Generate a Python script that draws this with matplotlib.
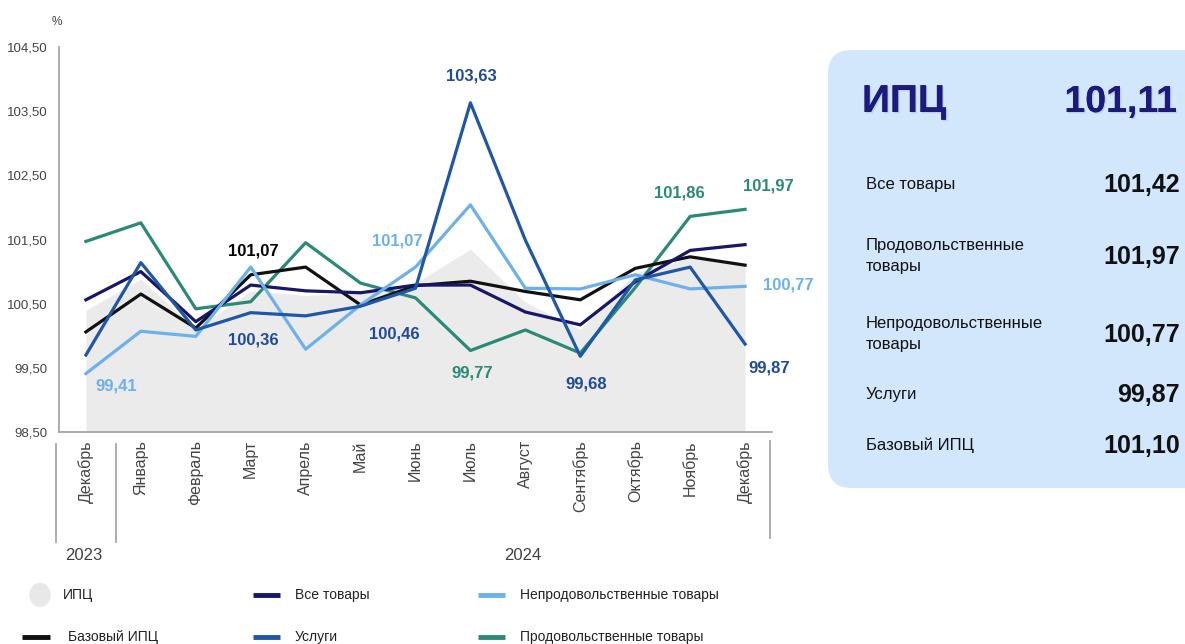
import matplotlib
matplotlib.use('Agg')
import matplotlib.pyplot as plt
from matplotlib.patches import FancyBboxPatch, Ellipse
from matplotlib.lines import Line2D
import matplotlib.patheffects as pe

plt.rcParams['font.family'] = ['Liberation Sans', 'DejaVu Sans']

months = ['Декабрь', 'Январь', 'Февраль', 'Март', 'Апрель', 'Май', 'Июнь',
          'Июль', 'Август', 'Сентябрь', 'Октябрь', 'Ноябрь', 'Декабрь']
cpi = [100.40, 100.88, 100.10, 100.70, 100.63, 100.67, 100.82, 101.35,
       100.52, 100.10, 100.98, 101.21, 101.11]
base_cpi = [100.06, 100.65, 100.12, 100.95, 101.07, 100.48, 100.78, 100.85,
            100.69, 100.56, 101.05, 101.23, 101.10]
all_goods = [100.56, 101.00, 100.22, 100.79, 100.70, 100.67, 100.79, 100.79,
             100.37, 100.17, 100.84, 101.33, 101.42]
services = [99.70, 101.14, 100.09, 100.36, 100.31, 100.46, 100.74, 103.63,
            101.49, 99.68, 100.87, 101.07, 99.87]
nonfood = [99.41, 100.07, 99.99, 101.07, 99.79, 100.48, 101.07, 102.04,
           100.74, 100.73, 100.95, 100.73, 100.77]
food = [101.47, 101.76, 100.42, 100.53, 101.45, 100.82, 100.59, 99.77,
        100.09, 99.73, 100.75, 101.86, 101.97]

panel_labels = ['Все товары', 'Продовольственные\nтовары',
                'Непродовольственные\nтовары', 'Услуги', 'Базовый ИПЦ']
panel_values = ['101,42', '101,97', '100,77', '99,87', '101,10']

c_cpi = '#ebebeb'
c_base = '#111111'
c_goods = '#17166b'
c_serv = '#1f57a8'
c_nonfood = '#6cb0ec'
c_food = '#2a8a76'
c_serv_lbl = '#1f4b98'

W, H = 1185, 644
fig = plt.figure(figsize=(W / 100, H / 100), dpi=100)
ax = fig.add_axes([59 / W, 1 - 432 / H, (772 - 59) / W, (432 - 47) / H])

x = list(range(len(months)))
ax.fill_between(x, 98.5, cpi, color=c_cpi, lw=0, zorder=1)
ax.plot(x, food, color=c_food, lw=2.3, zorder=2)
ax.plot(x, base_cpi, color=c_base, lw=2.3, zorder=3)
ax.plot(x, all_goods, color=c_goods, lw=2.3, zorder=4)
ax.plot(x, nonfood, color=c_nonfood, lw=2.3, zorder=5)
ax.plot(x, services, color=c_serv, lw=2.3, zorder=6)

ax.set_xlim(-0.49, 12.49)
ax.set_ylim(98.5, 104.5)
ax.set_yticks([98.5, 99.5, 100.5, 101.5, 102.5, 103.5, 104.5])
ax.set_yticklabels(['98,50', '99,50', '100,50', '101,50', '102,50', '103,50', '104,50'])
ax.set_xticks(x)
ax.set_xticklabels(months, rotation=90, va='top', ha='center')
ax.tick_params(axis='y', length=0, pad=8, labelsize=9.5, labelcolor='#444444')
ax.tick_params(axis='x', length=0, pad=6, labelsize=11.5, labelcolor='#444444')
for s in ['top', 'right']:
    ax.spines[s].set_visible(False)
ax.spines['left'].set_color('#a6a6a6')
ax.spines['bottom'].set_color('#a6a6a6')
ax.spines['left'].set_linewidth(1.3)
ax.spines['bottom'].set_linewidth(1.3)

# data labels
def lbl(i, v, txt, color, dx=0, dy=0):
    ax.annotate(txt, (i, v), xytext=(dx, dy), textcoords='offset points',
                ha='center', va='center', fontsize=12, fontweight='bold', color=color)

lbl(7, services[7], '103,63', c_serv_lbl, 1, 19)
lbl(3, base_cpi[3], '101,07', 'black', 2, 17)
lbl(6, nonfood[6], '101,07', c_nonfood, -13, 19)
lbl(3, services[3], '100,36', c_serv_lbl, 2, -20)
lbl(5, services[5], '100,46', c_serv_lbl, 24, -20)
lbl(0, nonfood[0], '99,41', c_nonfood, 22, -9)
lbl(7, food[7], '99,77', c_food, 1, -16)
lbl(9, services[9], '99,68', c_serv_lbl, 4, -20)
lbl(11, food[11], '101,86', c_food, -8, 17)
lbl(12, food[12], '101,97', c_food, 17, 17)
lbl(12, nonfood[12], '100,77', c_nonfood, 31, 1)
lbl(12, services[12], '99,87', c_serv_lbl, 17, -17)

# "%" unit
fig.text(57 / W, 1 - 22 / H, '%', fontsize=8.5, color='#444444', ha='center', va='center')

# year separators
for px, y0, y1 in [(56, 444, 542), (116, 444, 542), (770, 441, 538)]:
    fig.add_artist(Line2D([px / W, px / W], [1 - y0 / H, 1 - y1 / H],
                          color='#a6a6a6', lw=1.3))
fig.text(84 / W, 1 - 555 / H, '2023', fontsize=12, color='#404040',
         ha='center', va='center')
fig.text(523 / W, 1 - 555 / H, '2024', fontsize=12, color='#404040',
         ha='center', va='center')

# legend
fig.add_artist(Ellipse((40 / W, 1 - 595 / H), 20 / W, 23 / H, color='#e8e8e8'))
items = [
    (63, 595, None, 'ИПЦ'),
    (22, 637, c_base, 'Базовый ИПЦ'),
    (295, 595, c_goods, 'Все товары'),
    (295, 637, c_serv, 'Услуги'),
    (520, 595, c_nonfood, 'Непродовольственные товары'),
    (520, 637, c_food, 'Продовольственные товары'),
]
for tx, ty, col, name in items:
    if col is not None:
        if name == 'Базовый ИПЦ':
            x0, x1, tx2 = 22, 50, 68
        else:
            x0, x1, tx2 = tx - 42, tx - 15, tx
        fig.add_artist(Line2D([x0 / W, x1 / W], [1 - ty / H, 1 - ty / H],
                              color=col, lw=3.5, solid_capstyle='butt'))
        tx = tx2
    fig.text(tx / W, 1 - ty / H, name, fontsize=10, color='#222222',
             ha='left', va='center')

# right panel
panel = FancyBboxPatch((828 / W, 1 - 488 / H), 400 / W, (488 - 50) / H,
                       boxstyle='round,pad=0,rounding_size=0.02',
                       transform=fig.transFigure, facecolor='#d3e7fc',
                       edgecolor='none', mutation_aspect=W / H)
fig.add_artist(panel)
glow = [pe.withSimplePatchShadow(offset=(1, -1), shadow_rgbFace='#9aa0c0', alpha=0.35), pe.Normal()]
fig.text(862 / W, 1 - 102 / H, 'ИПЦ', fontsize=28, fontweight='bold',
         color='#1c1a7a', ha='left', va='center', path_effects=glow)
fig.text(1177 / W, 1 - 102 / H, '101,11', fontsize=27, fontweight='bold',
         color='#1c1a7a', ha='right', va='center', path_effects=glow)
row_y = [184, 256, 334, 394, 445]
for ry, name, val in zip(row_y, panel_labels, panel_values):
    fig.text(866 / W, 1 - ry / H, name, fontsize=12, color='#111111',
             ha='left', va='center', linespacing=1.5)
    fig.text(1180 / W, 1 - (ry + 1) / H, val, fontsize=18, fontweight='bold',
             color='#111111', ha='right', va='center')

fig.savefig('out.png', dpi=100)
